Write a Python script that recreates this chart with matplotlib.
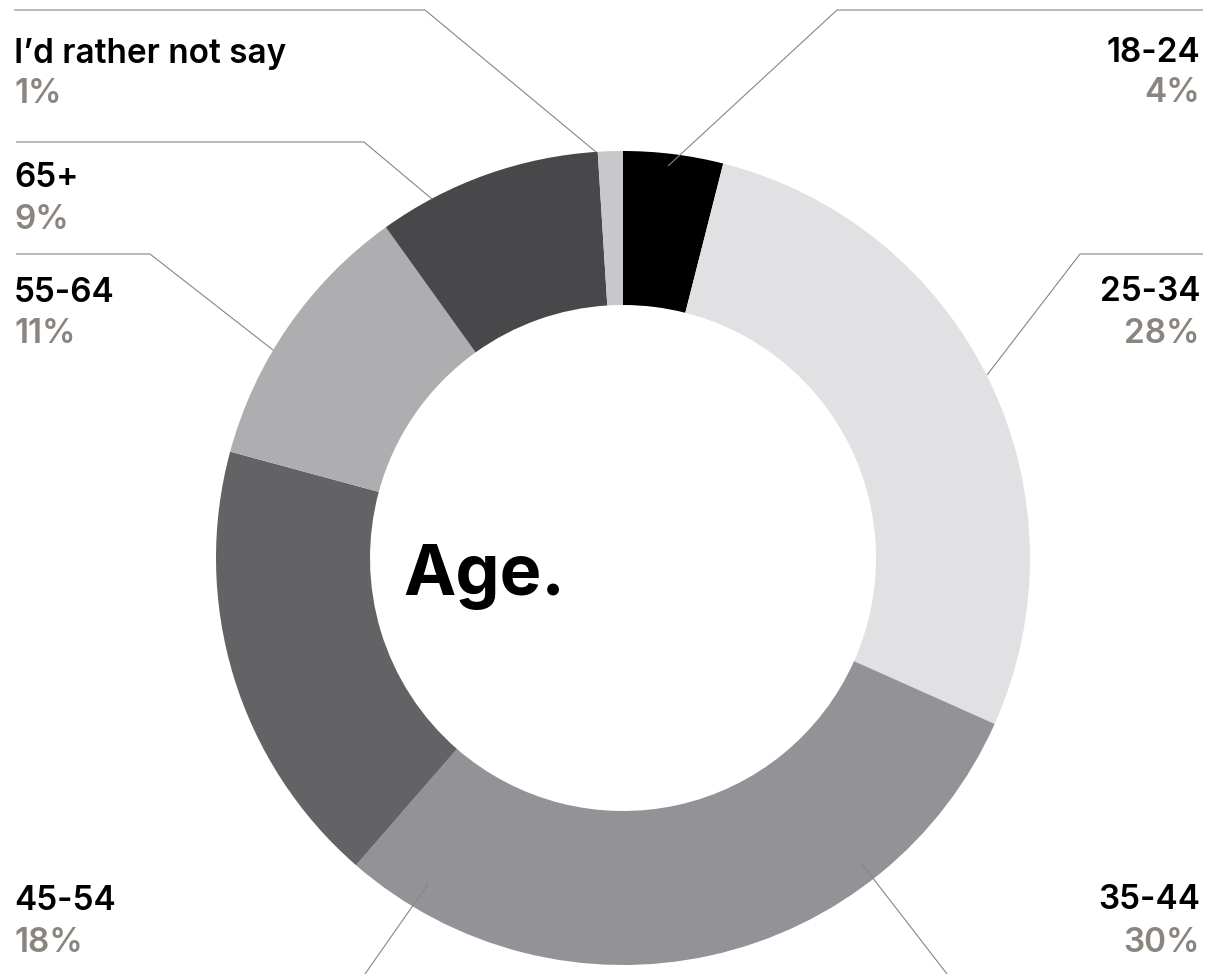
import matplotlib
matplotlib.use('Agg')
import matplotlib.pyplot as plt

plt.rcParams['font.family'] = ['Inter', 'DejaVu Sans']

# age groups, clockwise from 12 o'clock
groups = ['18-24', '25-34', '35-44', '45-54', '55-64', '65+', 'I\u2019d rather not say']
shares = [4, 28, 30, 18, 11, 9, 1]
colours = ['#000000', '#e1e1e3', '#939397', '#636366', '#aeaeb1', '#48484a', '#c8c8ca']

W, H = 1207, 974
LINE = '#8a8580'
PCT = '#8a857f'


def y(py):
    # pixel rows counted from the top
    return H - py


fig = plt.figure(figsize=(W / 100, H / 100), dpi=100)
ax = fig.add_axes([0, 0, 1, 1])
ax.set_xlim(0, W)
ax.set_ylim(0, H)
ax.set_aspect('equal')
ax.axis('off')

ax.pie(shares, colors=colours, startangle=90, counterclock=False,
       center=(623, y(558)), radius=407,
       wedgeprops=dict(width=154, linewidth=0))
ax.set_xlim(0, W)
ax.set_ylim(0, H)

ax.text(403, y(595), 'Age.', fontsize=50.5, fontweight='bold', color='black',
        ha='left', va='baseline')

# label blocks: (group index, x, name baseline, percent baseline, align)
labels = [
    (6, 14, 63, 103, 'left'),
    (0, 1200, 62, 102, 'right'),
    (5, 14, 187, 229, 'left'),
    (4, 14, 302, 343, 'left'),
    (1, 1200, 301, 343, 'right'),
    (3, 14, 910, 952, 'left'),
    (2, 1200, 909, 952, 'right'),
]
for i, x, yn, yp, ha in labels:
    ax.text(x, y(yn), groups[i], fontsize=24, fontweight='semibold',
            color='black', ha=ha, va='baseline')
    ax.text(x, y(yp), f'{shares[i]}%', fontsize=24, fontweight='semibold',
            color=PCT, ha=ha, va='baseline')

# leader lines
leaders = [
    [(14, 10), (425, 10), (596, 152)],
    [(1203, 10), (837, 10), (668, 166)],
    [(16, 142), (364, 142), (432, 199)],
    [(16, 254), (150, 254), (273, 350)],
    [(1203, 254), (1080, 254), (987, 375)],
    [(428, 884), (365, 974)],
    [(862, 864), (947, 974)],
]
for pts in leaders:
    xs = [p[0] for p in pts]
    ys = [y(p[1]) for p in pts]
    ax.plot(xs, ys, color=LINE, linewidth=0.8, solid_capstyle='butt')

fig.savefig('out.png', dpi=100)
